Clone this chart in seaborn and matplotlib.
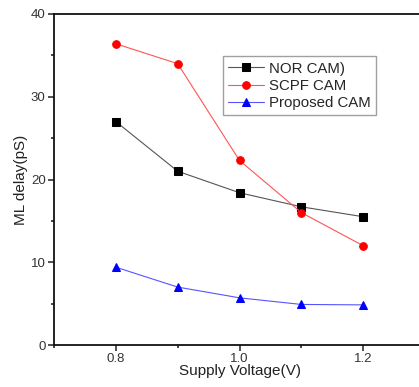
import matplotlib
matplotlib.use("Agg")
import matplotlib.pyplot as plt
import seaborn as sns
import pandas as pd
from matplotlib.ticker import MultipleLocator

voltage = [0.8, 0.9, 1.0, 1.1, 1.2]
nor_cam = [27.0, 21.0, 18.4, 16.7, 15.5]
scpf_cam = [36.4, 34.0, 22.3, 16.0, 12.0]
proposed_cam = [9.4, 7.0, 5.7, 4.9, 4.85]
series_names = ["NOR CAM)", "SCPF CAM", "Proposed CAM"]

sns.set_style("ticks")
plt.rcParams['font.family'] = ['Liberation Sans', 'DejaVu Sans']

fig = plt.figure(figsize=(4.19, 3.87), dpi=100)
ax = fig.add_axes([54/419, 42/387, 371/419, 331/387])

styles = [
    (nor_cam, "#000000", "#555555", "s"),
    (scpf_cam, "#ff0000", "#ff5555", "o"),
    (proposed_cam, "#0000ff", "#5555ff", "^"),
]
for name, (vals, mc, lc, mk) in zip(series_names, styles):
    df = pd.DataFrame({"V": voltage, "D": vals})
    sns.lineplot(data=df, x="V", y="D", ax=ax, color=lc, linewidth=0.8,
                 marker=mk, markersize=5.5, markerfacecolor=mc,
                 markeredgecolor=mc, label=name)

ax.set_xlim(0.7, 1.3)
ax.set_ylim(0, 40)
ax.xaxis.set_major_locator(MultipleLocator(0.2))
ax.xaxis.set_minor_locator(MultipleLocator(0.1))
ax.yaxis.set_major_locator(MultipleLocator(10))
ax.yaxis.set_minor_locator(MultipleLocator(5))
ax.set_xticks([0.8, 1.0, 1.2])
ax.set_xticklabels(["0.8", "1.0", "1.2"])
ax.tick_params(which="major", direction="out", length=4, width=1.2, labelsize=9.5, colors="#333333", pad=2)
ax.tick_params(which="minor", direction="out", length=2.5, width=1.2)
for s in ax.spines.values():
    s.set_linewidth(1.3)
    s.set_color("#111111")

ax.set_xlabel("Supply Voltage(V)", fontsize=11, labelpad=-1, color="#222222")
ax.set_ylabel("ML delay(pS)", fontsize=11, labelpad=2, color="#222222")

leg = ax.legend(loc="upper left", bbox_to_anchor=(0.455, 0.872), fontsize=10.8,
                frameon=True, fancybox=False, edgecolor="#888888",
                handlelength=2.4, handletextpad=0.3, labelspacing=0.22,
                borderpad=0.35, borderaxespad=0)
leg.get_frame().set_linewidth(1.0)

fig.savefig("out.png", dpi=100)
